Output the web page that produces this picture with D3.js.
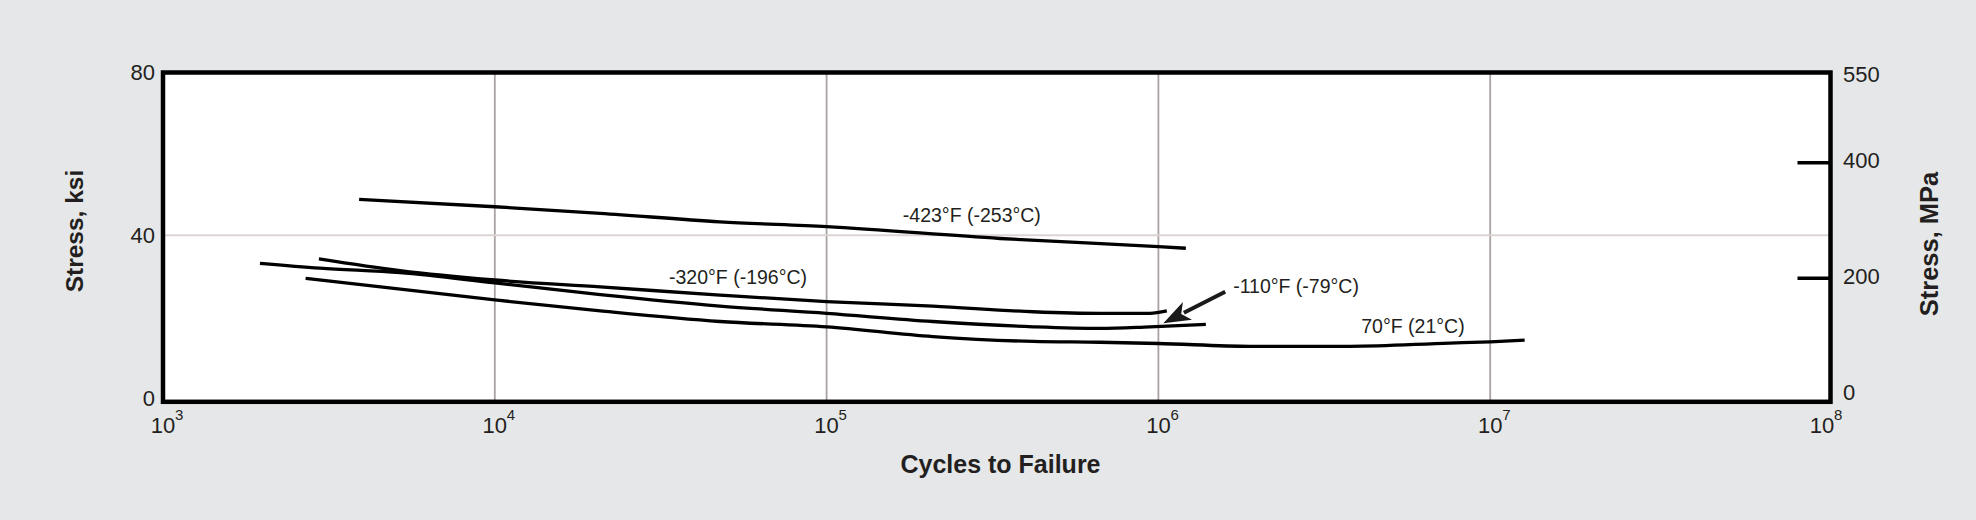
<!DOCTYPE html>
<html>
<head>
<meta charset="utf-8">
<script src="https://cdn.jsdelivr.net/npm/d3@7"></script>
<style>
	html, body { margin: 0; padding: 0; background: #e6e7e8; }
	svg { display: block; }
	text { font-family: "Liberation Sans", Arial, Helvetica, sans-serif; fill: #231f20; }
</style>
</head>
<body>
<div id="chart"></div>
<script>

// x axis decades and y axis ticks
var decades = [1e3, 1e4, 1e5, 1e6, 1e7, 1e8];
var ksiTicks = [0, 40, 80];
var mpaTicks = [0, 200, 400, 550];
var mpaMarks = [200, 400];

// fatigue curves, cycles to failure vs stress (ksi)
var cyc423 = [3900, 1e4, 20800, 47700, 1e5, 333000, 1e6, 1210000];
var ksi423 = [48.8, 47.0, 45.4, 43.3, 42.1, 39.2, 37.2, 36.8];

var cyc320 = [2950, 5180, 1e4, 20800, 47700, 1e5, 209000, 419000, 667000, 943000, 1060000];
var ksi320 = [34.2, 31.3, 29.0, 27.3, 25.3, 23.7, 22.6, 21.2, 20.8, 20.8, 21.4];

var cyc110 = [1960, 2970, 5180, 1e4, 20800, 47700, 1e5, 209000, 419000, 667000, 943000, 1390000];
var ksi110 = [33.1, 31.9, 30.8, 28.3, 25.4, 22.6, 20.8, 18.8, 17.5, 17.1, 17.5, 18.1];

var cyc70 = [2690, 1e4, 20800, 47700, 1e5, 209000, 419000, 667000, 1e6, 1890000, 3780000, 7560000, 1e7, 12700000];
var ksi70 = [29.4, 24.1, 21.4, 18.8, 17.5, 15.1, 13.9, 13.7, 13.4, 12.7, 12.7, 13.5, 13.8, 14.2];

// curve labels
var labelTexts = ["-423°F (-253°C)", "-320°F (-196°C)", "-110°F (-79°C)", "70°F (21°C)"];
var labelCycles = [2.74e5, 5.41e4, 1.68e6, 5.85e6];
var labelKsi = [43.3, 28.0, 25.7, 16.0];
var labelAnchor = ["middle", "middle", "start", "middle"];

// arrow pointing at the -110F curve: [cycles, ksi]
var arrowFrom = [1.59e6, 26.1];
var arrowTo = [1.035e6, 18.4];

var width = 1976, height = 520;

var svg = d3.select("#chart").append("svg")
	.attr("width", width)
	.attr("height", height);

svg.append("rect")
	.attr("width", width)
	.attr("height", height)
	.attr("fill", "#e6e7e8");

var x = d3.scaleLog().domain([1e3, 1e8]).range([163, 1822]);
var y = d3.scaleLinear().domain([0, 80]).range([398, 72.5]);
var yMpa = d3.scaleLinear().domain([0, 550]).range([392, 74]);

var frameTop = y(80), frameBottom = y(0) + 3.8;
var frameLeft = x(1e3), frameRight = 1830.5;

// plot area
svg.append("rect")
	.attr("x", frameLeft)
	.attr("y", frameTop)
	.attr("width", frameRight - frameLeft)
	.attr("height", frameBottom - frameTop)
	.attr("fill", "#ffffff");

// grid
svg.append("g").selectAll("line")
	.data(decades.slice(1, -1))
	.enter().append("line")
	.attr("x1", function(d) { return x(d); })
	.attr("x2", function(d) { return x(d); })
	.attr("y1", frameTop)
	.attr("y2", frameBottom)
	.attr("stroke", "#aaa2a2")
	.attr("stroke-width", 1.8);

svg.append("line")
	.attr("x1", frameLeft)
	.attr("x2", frameRight)
	.attr("y1", y(40))
	.attr("y2", y(40))
	.attr("stroke", "#dcd4d2")
	.attr("stroke-width", 2);

// curves
var line = d3.line()
	.x(function(d) { return x(d[0]); })
	.y(function(d) { return y(d[1]); })
	.curve(d3.curveMonotoneX);

var series = [
	d3.zip(cyc423, ksi423),
	d3.zip(cyc320, ksi320),
	d3.zip(cyc110, ksi110),
	d3.zip(cyc70, ksi70)
];

svg.append("g").selectAll("path")
	.data(series)
	.enter().append("path")
	.attr("d", line)
	.attr("fill", "none")
	.attr("stroke", "#000")
	.attr("stroke-width", 3.3)
	.attr("stroke-linecap", "butt")
	.attr("stroke-linejoin", "round");

// curve labels
svg.append("g").selectAll("text")
	.data(labelTexts)
	.enter().append("text")
	.attr("x", function(d, i) { return x(labelCycles[i]); })
	.attr("y", function(d, i) { return y(labelKsi[i]); })
	.attr("text-anchor", function(d, i) { return labelAnchor[i]; })
	.attr("font-size", 19.5)
	.text(function(d) { return d; });

// arrow
var ax1 = x(arrowFrom[0]), ay1 = y(arrowFrom[1]);
var ax2 = x(arrowTo[0]), ay2 = y(arrowTo[1]);
var len = Math.sqrt((ax2 - ax1) * (ax2 - ax1) + (ay2 - ay1) * (ay2 - ay1));
var ux = (ax2 - ax1) / len, uy = (ay2 - ay1) / len;
var headLen = 27, headHalf = 10;
var bx = ax2 - ux * headLen, by = ay2 - uy * headLen;

svg.append("line")
	.attr("x1", ax1)
	.attr("y1", ay1)
	.attr("x2", ax2 - ux * (headLen - 4))
	.attr("y2", ay2 - uy * (headLen - 4))
	.attr("stroke", "#1a1a1a")
	.attr("stroke-width", 4);

svg.append("path")
	.attr("d", "M" + ax2 + "," + ay2 +
		"L" + (bx - uy * headHalf) + "," + (by + ux * headHalf) +
		"L" + (ax2 - ux * (headLen - 7)) + "," + (ay2 - uy * (headLen - 7)) +
		"L" + (bx + uy * headHalf) + "," + (by - ux * headHalf) + "Z")
	.attr("fill", "#1a1a1a");

// frame
svg.append("rect")
	.attr("x", frameLeft)
	.attr("y", frameTop)
	.attr("width", frameRight - frameLeft)
	.attr("height", frameBottom - frameTop)
	.attr("fill", "none")
	.attr("stroke", "#000")
	.attr("stroke-width", 4.5);

// right axis tick marks
svg.append("g").selectAll("line")
	.data(mpaMarks)
	.enter().append("line")
	.attr("x1", frameRight - 33)
	.attr("x2", frameRight)
	.attr("y1", function(d) { return yMpa(d) + 2; })
	.attr("y2", function(d) { return yMpa(d) + 2; })
	.attr("stroke", "#000")
	.attr("stroke-width", 3.5);

// left axis labels
svg.append("g").selectAll("text")
	.data(ksiTicks)
	.enter().append("text")
	.attr("x", 155)
	.attr("y", function(d) { return y(d); })
	.attr("dy", "0.35em")
	.attr("text-anchor", "end")
	.attr("font-size", 22)
	.text(function(d) { return d; });

// right axis labels
svg.append("g").selectAll("text")
	.data(mpaTicks)
	.enter().append("text")
	.attr("x", 1843)
	.attr("y", function(d) { return yMpa(d); })
	.attr("dy", "0.35em")
	.attr("text-anchor", "start")
	.attr("font-size", 22)
	.text(function(d) { return d; });

// x axis labels, 10 with exponent
var xLabels = svg.append("g").selectAll("g")
	.data(decades)
	.enter().append("g")
	.attr("transform", function(d) { return "translate(" + x(d) + ",0)"; });

xLabels.append("text")
	.attr("x", 0)
	.attr("y", 433)
	.attr("text-anchor", "middle")
	.attr("font-size", 22)
	.text("10");

xLabels.append("text")
	.attr("x", 12)
	.attr("y", 420)
	.attr("text-anchor", "start")
	.attr("font-size", 15)
	.text(function(d) { return Math.round(Math.log10(d)); });

// axis titles
svg.append("text")
	.attr("x", 1000.5)
	.attr("y", 473)
	.attr("text-anchor", "middle")
	.attr("font-size", 25)
	.attr("font-weight", "bold")
	.text("Cycles to Failure");

svg.append("text")
	.attr("transform", "translate(83,231) rotate(-90)")
	.attr("text-anchor", "middle")
	.attr("font-size", 24.5)
	.attr("font-weight", "bold")
	.text("Stress, ksi");

svg.append("text")
	.attr("transform", "translate(1938,244) rotate(-90)")
	.attr("text-anchor", "middle")
	.attr("font-size", 25.5)
	.attr("font-weight", "bold")
	.text("Stress, MPa");

</script>
</body>
</html>
